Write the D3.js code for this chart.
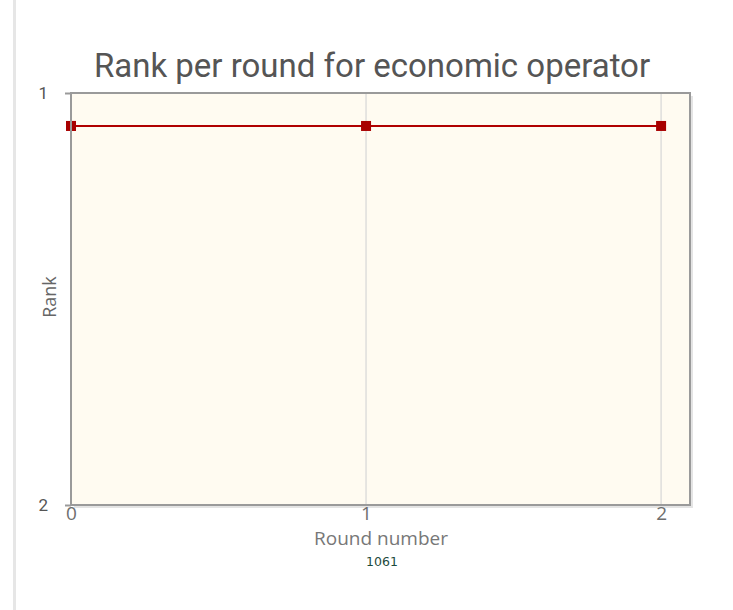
<!DOCTYPE html>
<html>
<head>
<meta charset="utf-8">
<script src="https://cdn.jsdelivr.net/npm/d3@7"></script>
<style>
  html, body { margin: 0; padding: 0; background: #fff; }
  svg { display: block; }
</style>
</head>
<body>
<svg id="chart" width="733" height="610"></svg>
<script>
// Rank of the operator in each bidding round
const rounds = [0, 1, 2];
const ranks = [1.08, 1.08, 1.08];
const xTicks = [0, 1, 2];
const yTicks = [1, 2];
const titleText = "Rank per round for economic operator";
const xLabel = "Round number";
const yLabel = "Rank";
const footText = "1061";

const svg = d3.select("#chart");
const W = 733, H = 610;
const plot = { left: 71, top: 93, right: 690, bottom: 505 };

// page side rule
svg.append("rect").attr("x", 13).attr("y", 0).attr("width", 3).attr("height", H).attr("fill", "#e6e6e6");

const x = d3.scaleLinear().domain([0, 2.098]).range([plot.left, plot.right]);
const y = d3.scaleLinear().domain([1, 2]).range([plot.top, plot.bottom]);

// shadow + background
svg.append("rect")
  .attr("x", plot.left + 3).attr("y", plot.top + 3)
  .attr("width", plot.right - plot.left).attr("height", plot.bottom - plot.top)
  .attr("fill", "#e4e4e4");
svg.append("rect")
  .attr("x", plot.left).attr("y", plot.top)
  .attr("width", plot.right - plot.left).attr("height", plot.bottom - plot.top)
  .attr("fill", "#fffbf1");

// vertical grid lines
svg.append("g").selectAll("line").data(xTicks).join("line")
  .attr("x1", d => x(d)).attr("x2", d => x(d))
  .attr("y1", plot.top).attr("y2", plot.bottom)
  .attr("stroke", "#d6d6d6").attr("stroke-width", 1.2);

// x axis tick labels (drawn before the frame so the frame overlaps their tops)
const xAxis = svg.append("g").attr("transform", `translate(0,${plot.bottom})`)
  .call(d3.axisBottom(x).tickValues(xTicks).tickFormat(d3.format("d")).tickSize(0).tickPadding(1));
xAxis.select(".domain").remove();
xAxis.selectAll(".tick text").attr("fill", "#6e6e6e").style("font", "19px 'Open Sans', Roboto, sans-serif");

// frame
svg.append("rect")
  .attr("x", plot.left).attr("y", plot.top)
  .attr("width", plot.right - plot.left).attr("height", plot.bottom - plot.top)
  .attr("fill", "none").attr("stroke", "#9a9a9a").attr("stroke-width", 2);

// y axis
const yAxis = svg.append("g").attr("transform", `translate(${plot.left},0)`)
  .call(d3.axisLeft(y).tickValues(yTicks).tickFormat(d3.format("d")).tickSize(6).tickPadding(17));
yAxis.select(".domain").remove();
yAxis.selectAll(".tick line").attr("stroke", "#9a9a9a").attr("stroke-width", 2);
yAxis.selectAll(".tick text").attr("fill", "#555").style("font", "17px Roboto, 'Open Sans', sans-serif");

// series line and markers
const line = d3.line().x((d, i) => x(rounds[i])).y(d => y(d));
svg.append("path").datum(ranks).attr("d", line)
  .attr("fill", "none").attr("stroke", "#b00000").attr("stroke-width", 2);
svg.append("g").selectAll("rect").data(ranks).join("rect")
  .attr("x", (d, i) => x(rounds[i]) - 5).attr("y", d => y(d) - 5)
  .attr("width", 10).attr("height", 10).attr("fill", "#a80000");

// redraw left axis over the first marker
svg.append("line").attr("x1", plot.left).attr("x2", plot.left)
  .attr("y1", plot.top - 1).attr("y2", plot.bottom + 1)
  .attr("stroke", "#9a9a9a").attr("stroke-width", 2);
svg.append("rect").attr("x", plot.left + 1).attr("y", y(ranks[0]) - 5).attr("width", 4).attr("height", 10).attr("fill", "#a80000");

// titles
svg.append("text").attr("x", 372).attr("y", 77).attr("text-anchor", "middle")
  .attr("fill", "#555").style("font", "33px Roboto, sans-serif").text(titleText);
svg.append("text").attr("x", 381).attr("y", 545).attr("text-anchor", "middle")
  .attr("fill", "#777").style("font", "19px 'Open Sans', sans-serif").text(xLabel);
svg.append("text").attr("transform", "translate(56,297) rotate(-90)").attr("text-anchor", "middle")
  .attr("fill", "#666").style("font", "18px 'Open Sans', sans-serif").text(yLabel);
svg.append("text").attr("x", 382).attr("y", 566).attr("text-anchor", "middle")
  .attr("fill", "#1e4a3c").style("font", "12.5px 'DejaVu Sans', sans-serif").text(footText);
</script>
</body>
</html>
